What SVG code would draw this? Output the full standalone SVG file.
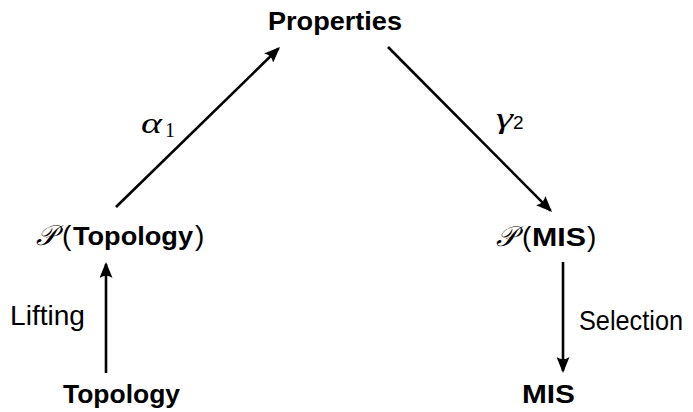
<svg xmlns="http://www.w3.org/2000/svg" width="693" height="412" viewBox="0 0 693 412">
<style>
.b{font-family:"Liberation Sans","DejaVu Sans",sans-serif;font-weight:bold;font-size:26.5px;fill:#000}
.r{font-family:"Liberation Sans","DejaVu Sans",sans-serif;font-size:28px;fill:#000}
.m{font-family:"Liberation Serif","DejaVu Serif",serif;font-style:italic;font-size:30px;fill:#000}
.c{font-family:"DejaVu Serif",serif;font-style:italic;font-size:28px;fill:#000}
.e{stroke:#000;stroke-width:2.6;fill:none;marker-end:url(#ah)}
</style>
<defs>
<marker id="ah" viewBox="0 0 16 13" refX="14" refY="6.5" markerWidth="16" markerHeight="13" orient="auto" markerUnits="userSpaceOnUse">
<path d="M0,0 L16,6.5 L0,13 Q4.5,6.5 0,0 z" fill="#000"/>
</marker>
</defs>
<g id="connectors">
<line class="e" x1="116" y1="207" x2="278.6" y2="48.4"/>
<line class="e" x1="388" y1="47" x2="550.6" y2="210.6"/>
<line class="e" x1="106" y1="373" x2="106" y2="264"/>
<line class="e" x1="563" y1="262" x2="563" y2="371"/>
</g>
<g id="properties"><text class="b" x="268" y="30" textLength="134" lengthAdjust="spacingAndGlyphs">Properties</text></g>
<g id="ptopology">
<text class="c" x="36" y="245">𝒫</text>
<text class="r" x="62" y="245">(</text>
<text class="b" x="73" y="245" font-size="27" textLength="120" lengthAdjust="spacingAndGlyphs">Topology</text>
<text class="r" x="195" y="245">)</text>
</g>
<g id="pmis">
<text class="c" x="496" y="246">𝒫</text>
<text class="r" x="522" y="246">(</text>
<text class="b" x="532" y="246" font-size="27" textLength="54" lengthAdjust="spacingAndGlyphs">MIS</text>
<text class="r" x="587" y="246">)</text>
</g>
<g id="topology"><text class="b" x="63" y="403" font-size="26" textLength="117" lengthAdjust="spacingAndGlyphs">Topology</text></g>
<g id="mis"><text class="b" x="522" y="403" font-size="27" textLength="53" lengthAdjust="spacingAndGlyphs">MIS</text></g>
<g id="labels">
<text class="m" x="141" y="133" textLength="21" lengthAdjust="spacingAndGlyphs">α</text>
<text x="165" y="137" font-family="Liberation Serif,serif" font-size="20">1</text>
<text class="m" x="496" y="128" textLength="17" lengthAdjust="spacingAndGlyphs">γ</text>
<text x="513" y="129" font-family="Liberation Sans,sans-serif" font-size="19">2</text>
<text class="r" x="10" y="325" textLength="75" lengthAdjust="spacingAndGlyphs">Lifting</text>
<text class="r" x="579" y="330" font-size="26" textLength="104" lengthAdjust="spacingAndGlyphs">Selection</text>
</g>
</svg>
